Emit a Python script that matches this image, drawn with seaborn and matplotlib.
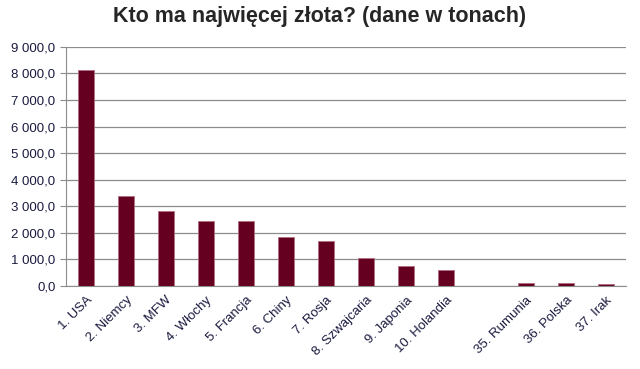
import numpy as np
import pandas as pd
import matplotlib
matplotlib.use('Agg')
import matplotlib.pyplot as plt
import seaborn as sns

# data (tons of gold)
kraje = ['1. USA', '2. Niemcy', '3. MFW', '4. Włochy', '5. Francja', '6. Chiny',
         '7. Rosja', '8. Szwajcaria', '9. Japonia', '10. Holandia', ' ',
         '35. Rumunia', '36. Polska', '37. Irak']
zloto = [8133.5, 3384.2, 2814.0, 2451.8, 2435.4, 1842.6,
         1694.7, 1040.0, 765.2, 612.5, np.nan,
         103.7, 102.9, 89.8]

df = pd.DataFrame({'kraj': kraje, 'tony': zloto})

sns.set_style('white')
plt.rcParams['font.family'] = ['Liberation Sans', 'DejaVu Sans']

fig = plt.figure(figsize=(6.4, 3.69), dpi=100)
ax = fig.add_axes([0.103, 0.225, 0.875, 0.648])

sns.barplot(data=df, x='kraj', y='tony', order=kraje, color='#660020',
            width=0.4, edgecolor='#b07080', linewidth=0.6, saturation=1, ax=ax)

ax.set_xlim(-0.5, len(kraje) - 0.5)
ax.set_ylim(0, 9000)
ax.set_yticks(np.arange(0, 9001, 1000))
ax.set_yticklabels([f'{v:,.1f}'.replace(',', ' ').replace('.', ',') for v in np.arange(0, 9001, 1000)],
                   fontsize=9.5, color='#1a1a40')
ax.yaxis.grid(True, color='#8c8c8c', linewidth=0.9)
ax.set_axisbelow(True)

ax.set_xticks(np.arange(len(kraje)))
ax.set_xticklabels(kraje, rotation=45, ha='right', rotation_mode='anchor', fontsize=9.5, color='#1a1a40')
ax.tick_params(axis='x', which='major', length=0, pad=6)
ax.set_xticks(np.arange(-0.5, len(kraje)), minor=True)
ax.tick_params(axis='x', which='minor', length=4, color='#8c8c8c', direction='out')
ax.tick_params(axis='y', length=4, color='#8c8c8c', direction='out', left=True)

for s in ['top', 'right']:
    ax.spines[s].set_visible(False)
ax.spines['left'].set_color('#8c8c8c')
ax.spines['bottom'].set_color('#8c8c8c')

ax.set_xlabel('')
ax.set_ylabel('')
fig.suptitle('Kto ma najwięcej złota? (dane w tonach)', fontsize=15.5, fontweight='bold',
             y=0.985, x=0.5)

fig.savefig('out.png', dpi=100)
